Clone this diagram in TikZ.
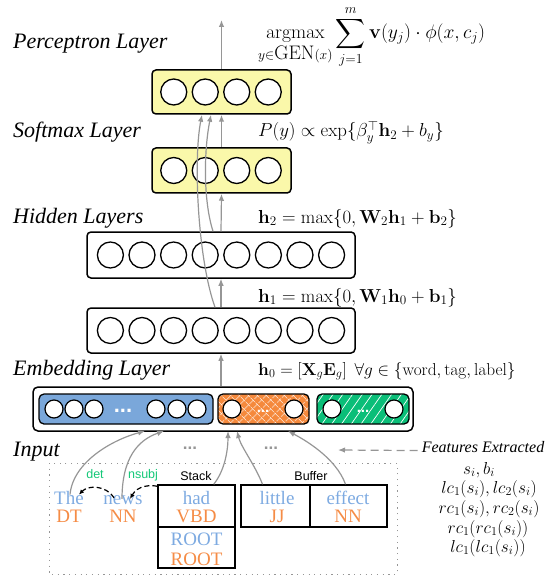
\RequirePackage{fix-cm}
\documentclass[tikz,border=0pt]{standalone}
\usepackage{amsmath}
\usepackage[no-math]{fontspec}
\newfontfamily\tms{Liberation Serif}
\newfontfamily\hlv{Liberation Sans}
\usetikzlibrary{arrows.meta,patterns.meta,calc}
\definecolor{yellowc}{RGB}{250,248,170}
\definecolor{bluec}{RGB}{122,167,218}
\definecolor{orangec}{RGB}{245,137,60}
\definecolor{greenc}{RGB}{10,190,120}
\definecolor{bluet}{RGB}{125,170,225}
\definecolor{oranget}{RGB}{245,140,70}
\definecolor{greent}{RGB}{20,200,120}
\definecolor{grayc}{RGB}{150,150,150}
\begin{document}
\begin{tikzpicture}[x=1pt,y=-1pt,
  box/.style={draw, line width=1.5pt, rounded corners=4pt, inner sep=0pt},
  neuron/.style={circle, draw, fill=white, line width=1.3pt, minimum size=26pt, inner sep=0pt},
  sneuron/.style={circle, draw, fill=white, line width=1.2pt, minimum size=18pt, inner sep=0pt},
  conn/.style={draw=grayc, line width=1.2pt, -{Latex[length=7pt,width=5.5pt]}},
  lbl/.style={font=\tms\itshape\fontsize{22}{25}\selectfont, anchor=base west, inner sep=0pt},
  eq/.style={font=\fontsize{18.8}{21}\selectfont, anchor=base west, inner sep=0pt},
  word/.style={font=\tms\fontsize{19}{22}\selectfont, anchor=base, inner sep=0pt},
  sans/.style={font=\hlv\fontsize{12.5}{14}\selectfont, anchor=base, inner sep=0pt},
  feat/.style={font=\fontsize{17.3}{20}\selectfont, inner sep=0pt},
  dep/.style={draw=black, line width=1.2pt, dash pattern=on 5pt off 3pt, -{Latex[length=5pt,width=4.5pt]}},
  wdots/.style={font=\hlv\bfseries\fontsize{22}{24}\selectfont, text=white, anchor=base, inner sep=0pt}
]
\useasboundingbox (0,0) rectangle (554,577);

% ---------- layer labels ----------
\node[lbl] (lp) at (13,49) {Perceptron Layer};
\node[lbl] (ls) at (13,138) {Softmax Layer};
\node[lbl] (lh) at (13,223) {Hidden Layers};
\node[lbl] (le) at (13,375) {Embedding Layer};
\node[lbl] (li) at (13,456) {Input};

% ---------- equations ----------
\node[eq, font=\fontsize{19.6}{22}\selectfont] (eqp) at (258,39) {$\displaystyle \mathop{\mathrm{argmax}}\limits_{y\in\mbox{GEN}(x)} \sum_{j=1}^{m} \mathbf{v}(y_j)\cdot\phi(x,c_j)$};
\node[eq] (eqs) at (258,137) {$P(y) \propto \exp\{\beta_y^{\top}\mathbf{h}_2 + b_y\}$};
\node[eq] (eqh2) at (258,223) {$\mathbf{h}_2 = \max\{0, \mathbf{W}_2\mathbf{h}_1 + \mathbf{b}_2\}$};
\node[eq] (eqh1) at (258,302) {$\mathbf{h}_1 = \max\{0, \mathbf{W}_1\mathbf{h}_0 + \mathbf{b}_1\}$};
\node[eq, font=\fontsize{17.3}{20}\selectfont] (eqh0) at (258,375) {$\mathbf{h}_0 = [\mathbf{X}_g\mathbf{E}_g]\;\, \forall g \in \{\mathrm{word}, \mathrm{tag}, \mathrm{label}\}$};

% ---------- layers ----------
\node[box, fill=yellowc, minimum width=139pt, minimum height=44pt] (perc) at (221.5,92) {};
\foreach \i in {0,...,3} \node[neuron] (pn\i) at ({173.75+31.5*\i},92) {};
\node[box, fill=yellowc, minimum width=139pt, minimum height=45pt] (soft) at (221.5,170.5) {};
\foreach \i in {0,...,3} \node[neuron] (sn\i) at ({173.75+31.5*\i},170.5) {};
\node[box, minimum width=268pt, minimum height=46pt] (h2) at (221,255) {};
\foreach \i in {0,...,7} \node[neuron] (hb\i) at ({110.4+31.6*\i},255) {};
\node[box, minimum width=268pt, minimum height=45pt] (h1) at (221,330.5) {};
\foreach \i in {0,...,7} \node[neuron] (ha\i) at ({110.4+31.6*\i},330.5) {};

% ---------- embedding ----------
\node[box, rounded corners=5pt, minimum width=380pt, minimum height=44pt] (emb) at (223,409) {};
\node[box, line width=1.3pt, rounded corners=5pt, fill=bluec, minimum width=174pt, minimum height=30pt] (eb) at (126,409) {};
\node[box, line width=1.3pt, rounded corners=5pt, minimum width=91pt, minimum height=30pt,
  preaction={fill=orangec},
  preaction={pattern={Lines[angle=45,distance=6.5pt,line width=0.6pt]}, pattern color=white},
  preaction={pattern={Lines[angle=-45,distance=6.5pt,line width=0.6pt]}, pattern color=white}] (eo) at (263.5,409) {};
\node[box, line width=1.3pt, rounded corners=5pt, minimum width=92pt, minimum height=30pt,
  preaction={fill=greenc},
  preaction={pattern={Lines[angle=55,distance=8pt,line width=0.7pt]}, pattern color=white}] (eg) at (363,409) {};
\foreach \x/\n in {54/1,74/2,94/3,156/4,177/5,197/6} \node[sneuron] (eb\n) at (\x,409) {};
\node[sneuron] (eo1) at (232,409) {};
\node[sneuron] (eo2) at (294,409) {};
\node[sneuron] (eg1) at (332,409) {};
\node[sneuron] (eg2) at (394,409) {};
\node[wdots] (ebd) at (123,412.5) {...};
\node[wdots, font=\hlv\bfseries\fontsize{15}{17}\selectfont] (eod) at (263,412) {...};
\node[wdots, font=\hlv\bfseries\fontsize{15}{17}\selectfont] (egd) at (363,412) {...};

% ---------- arrows between layers ----------
\draw[conn] (emb.north -| h1.south) -- (h1.south);
\draw[conn] (h1.north) -- (h2.south);
\draw[conn] (h2.north) -- (soft.south);
\draw[conn] (soft.north) -- (perc.south);
\coordinate (top) at (221.5,20);
\draw[conn] (perc.north) -- (top);
\draw[conn] ($(h1.north)+(-6,0)$) .. controls (198,260) and (193,160) .. ($(perc.south)+(-19.5,0)$);
\draw[conn] ($(h2.north)+(-8,0)$) .. controls (203,200) and (204,150) .. ($(perc.south)+(-10.5,0)$);

% ---------- input ----------
\draw[grayc, line width=1pt, dash pattern=on 1.2pt off 4.5pt] (49,463) rectangle (397,574);
\node[word, text=bluet] (the) at (69,504) {The};
\node[word, text=oranget] (dt) at (69,522) {DT};
\node[word, text=bluet] (news) at (123,504) {news};
\node[word, text=oranget] (nn1) at (123,522) {NN};
\node[draw, line width=1.5pt, minimum width=77pt, minimum height=42pt, inner sep=0pt] (stk1) at (196.5,506) {};
\node[draw, line width=1.5pt, minimum width=77pt, minimum height=41pt, inner sep=0pt] (stk2) at (196.5,547.5) {};
\node[draw, line width=1.5pt, minimum width=69pt, minimum height=42pt, inner sep=0pt] (buf1) at (275.5,506) {};
\node[draw, line width=1.5pt, minimum width=77pt, minimum height=42pt, inner sep=0pt] (buf2) at (348.5,506) {};
\node[word, text=bluet] (had) at (196.5,504) {had};
\node[word, text=oranget] (vbd) at (196.5,522) {VBD};
\node[word, text=bluet] (root1) at (196.5,545) {ROOT};
\node[word, text=oranget] (root2) at (196.5,565) {ROOT};
\node[word, text=bluet] (little) at (277,504) {little};
\node[word, text=oranget] (jj) at (277,522) {JJ};
\node[word, text=bluet] (effect) at (348,504) {effect};
\node[word, text=oranget] (nn2) at (348,522) {NN};
\node[sans] (stack) at (196,480) {Stack};
\node[sans] (buffer) at (311,480) {Buffer};
\node[sans, text=greent] (det) at (95,478) {det};
\node[sans, text=greent] (nsubj) at (143,478) {nsubj};
\node[font=\hlv\bfseries\fontsize{17}{19}\selectfont, text=grayc, anchor=base, inner sep=0pt] (dots1) at (190,449) {...};
\node[font=\hlv\bfseries\fontsize{17}{19}\selectfont, text=grayc, anchor=base, inner sep=0pt] (dots2) at (271,449) {...};

\draw[dep] ($(news.north)+(-9,3)$) .. controls (106,485) and (88,485) .. ($(the.north)+(10,4)$);
\draw[dep] ($(stk1.north west)+(0,2)$) .. controls (151,485) and (138,485) .. ($(news.north)+(7,4)$);

\coordinate (in1) at (145,431);
\coordinate (in2) at (164,431);
\coordinate (in3) at (228,431);
\coordinate (in4) at (237,431);
\coordinate (in5) at (288,431);
\draw[conn] ($(the.north)+(1,4)$) .. controls (73,462) and (112,440) .. (in1);
\draw[conn] ($(news.north)+(-1,4)$) .. controls (122,458) and (138,440) .. (in2);
\draw[conn] ($(stk1.north east)+(-22,0)$) .. controls (225,470) and (228,450) .. (in3);
\draw[conn] ($(buf1.north)+(-13,0)$) .. controls (255,465) and (241,447) .. (in4);
\draw[conn] ($(buf2.north)+(-3,0)$) .. controls (336,458) and (305,440) .. (in5);

% ---------- features ----------
\node[font=\tms\itshape\fontsize{16}{19}\selectfont, anchor=base, inner sep=0pt] (fe) at (483,452) {Features Extracted};
\coordinate (fx) at (338,450);
\draw[conn, dash pattern=on 8pt off 5pt] ($(fe.west)+(-4,4)$) -- (fx);
\node[feat] (f1) at (479,470) {$s_i, b_i$};
\node[feat] (f2) at (489,489) {$lc_1(s_i), lc_2(s_i)$};
\node[feat] (f3) at (489,509) {$rc_1(s_i), rc_2(s_i)$};
\node[feat] (f4) at (488,529) {$rc_1(rc_1(s_i))$};
\node[feat] (f5) at (488,548) {$lc_1(lc_1(s_i))$};
\end{tikzpicture}
\end{document}
